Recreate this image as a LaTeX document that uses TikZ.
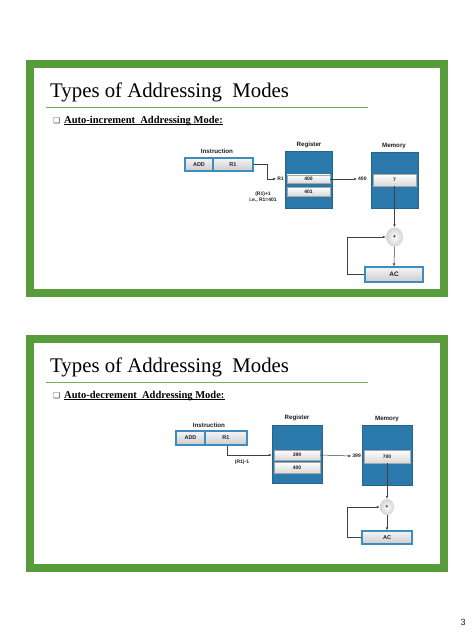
\documentclass[tikz,border=0pt]{standalone}
\usepackage{fontspec}
\setmainfont{Liberation Serif}
\setsansfont{Liberation Sans}
\newfontfamily\symfont{DejaVu Sans}
\usetikzlibrary{arrows.meta,positioning,calc,shapes.geometric}
\definecolor{slidegreen}{HTML}{579B3A}
\definecolor{rulegreen}{HTML}{74B152}
\definecolor{regblue}{HTML}{2B78AA}
\definecolor{boxblue}{HTML}{3C8CBE}
\definecolor{ink}{HTML}{1E1E1E}

\begin{document}
\begin{tikzpicture}[x=1pt,y=-1pt,line cap=butt,line join=miter,
  font=\sffamily\bfseries\fontsize{6.2}{7}\selectfont,
  block/.style={fill=regblue,draw=regblue!85!black,line width=.3pt,inner sep=0pt},
  cell/.style={draw=gray!70,line width=.4pt,top color=white,bottom color=gray!30,inner sep=0pt,
    font=\sffamily\bfseries\fontsize{5}{6}\selectfont,text=ink},
  ibox/.style={draw=boxblue,line width=1.1pt,top color=gray!8,bottom color=gray!40,inner sep=0pt,
    font=\sffamily\bfseries\fontsize{5.5}{6}\selectfont,text=ink},
  lbl/.style={inner sep=1pt,text=ink},
  wire/.style={draw=ink!85,line width=.5pt},
  arr/.style={wire,-{Latex[length=3pt,width=2.4pt]}},
  adder/.style={ellipse,minimum width=17pt,minimum height=19pt,inner sep=0pt,
    shading=radial,inner color=white,outer color=gray!35,
    font=\sffamily\bfseries\fontsize{5.5}{6}\selectfont,text=ink}]
  \useasboundingbox[fill=white] (0,0) rectangle (474,632);
  % slide frames, titles and bullets
  \foreach \i/\dy/\mode in {1/0/increment,2/275/decrement}{
    \draw[slidegreen,line width=8pt,fill=white] (30,64+\dy) rectangle (444,293+\dy);
    \node[anchor=base west,inner sep=0pt,font=\rmfamily\fontsize{20.8}{24}\selectfont,text=black]
      (title\i) at (50,97+\dy) {Types of Addressing\ \ Modes};
    \draw[rulegreen,line width=1pt] (46,107+\dy)--(368,107+\dy);
    \node[anchor=base west,inner sep=0pt,font=\symfont\fontsize{8}{9}\selectfont,text=ink!80]
      (box\i) at (53,123+\dy) {❑};
    \node[anchor=base west,inner sep=0pt,font=\rmfamily\bfseries\fontsize{10.5}{12}\selectfont,text=black]
      (mode\i) at (64,123+\dy) {Auto-\mode\ \ Addressing Mode:};
    \draw[black,line width=.6pt] ([yshift=-1.6pt]mode\i.base west)--([yshift=-1.6pt]mode\i.base east);
  }
  % auto-increment
  \node[lbl] (instr1) at (217,151) {Instruction};
  \node[ibox,minimum width=28pt,minimum height=13pt] (add1) at (199,164.5) {ADD};
  \node[ibox,minimum width=40pt,minimum height=13pt] (rone1) at (233,164.5) {R1};
  \node[lbl] (regname1) at (309,145) {Register};
  \node[block,minimum width=47pt,minimum height=57pt] (reg1) at (308.5,179.5) {};
  \node[cell,minimum width=43pt,minimum height=8.5pt] (old1) at (308.5,179) {400};
  \node[cell,minimum width=43pt,minimum height=9pt] (new1) at (308.5,191.5) {401};
  \node[lbl,anchor=east,font=\sffamily\bfseries\fontsize{5}{6}\selectfont] (rlab1) at (285,179) {R1};
  \node[lbl,align=center,font=\sffamily\bfseries\fontsize{5}{6}\selectfont] (inc1) at (263,197) {(R1)+1\\i.e., R1=401};
  \node[lbl] (memname1) at (394,146) {Memory};
  \node[block,minimum width=47pt,minimum height=56pt] (mem1) at (394.5,180) {};
  \node[cell,minimum width=43pt,minimum height=12pt] (val1) at (394.5,180) {7};
  \node[lbl,anchor=west,font=\sffamily\bfseries\fontsize{5}{6}\selectfont] (addr1) at (357,179) {400};
  \node[adder] (sum1) at (394.5,237) {+};
  \node[ibox,minimum width=58pt,minimum height=15pt,font=\sffamily\bfseries\fontsize{6.5}{7}\selectfont] (ac1) at (394,274.5) {AC};
  \draw[arr] (rone1.east) -- ++(14,0) |- (rlab1.west);
  \draw[arr] (old1.east) -- (addr1.west);
  \draw[arr] (val1.south) -- (sum1.north);
  \draw[arr] (sum1.south) -- (ac1.north);
  \draw[arr] (ac1.west) -- ++(-17,0) |- (sum1.west);
  % auto-decrement
  \node[lbl] (instr2) at (209,425) {Instruction};
  \node[ibox,minimum width=29pt,minimum height=14pt] (add2) at (190.5,438) {ADD};
  \node[ibox,minimum width=42pt,minimum height=14pt] (rone2) at (226,438) {R1};
  \node[lbl] (regname2) at (297,418) {Register};
  \node[block,minimum width=50pt,minimum height=58pt] (reg2) at (297,454) {};
  \node[cell,minimum width=46pt,minimum height=10pt] (new2) at (297,455) {399};
  \node[cell,minimum width=46pt,minimum height=11pt] (old2) at (297,467.5) {400};
  \node[lbl,font=\sffamily\bfseries\fontsize{5}{6}\selectfont] (dec2) at (242,462) {(R1)-1};
  \node[lbl] (memname2) at (387,419) {Memory};
  \node[block,minimum width=50pt,minimum height=60pt] (mem2) at (387,455) {};
  \node[cell,minimum width=46pt,minimum height=13pt] (val2) at (387,456.5) {700};
  \node[lbl,anchor=east,font=\sffamily\bfseries\fontsize{5}{6}\selectfont] (addr2) at (362,456) {399};
  \node[adder,minimum width=14pt,minimum height=16pt] (sum2) at (387,507) {+};
  \node[ibox,minimum width=50pt,minimum height=13pt] (ac2) at (387,537.5) {AC};
  \draw[arr] ([xshift=1pt]rone2.south) |- (new2.west -| reg2.west);
  \draw[arr] (new2.east) -- (addr2.west);
  \draw[arr] (val2.south) -- (sum2.north);
  \draw[arr] (sum2.south) -- (ac2.north);
  \draw[arr] (ac2.west) -- ++(-14,0) |- (sum2.west);
  \node[font=\sffamily\fontsize{9}{10}\selectfont,text=ink] (page) at (463,622) {3};
\end{tikzpicture}
\end{document}
